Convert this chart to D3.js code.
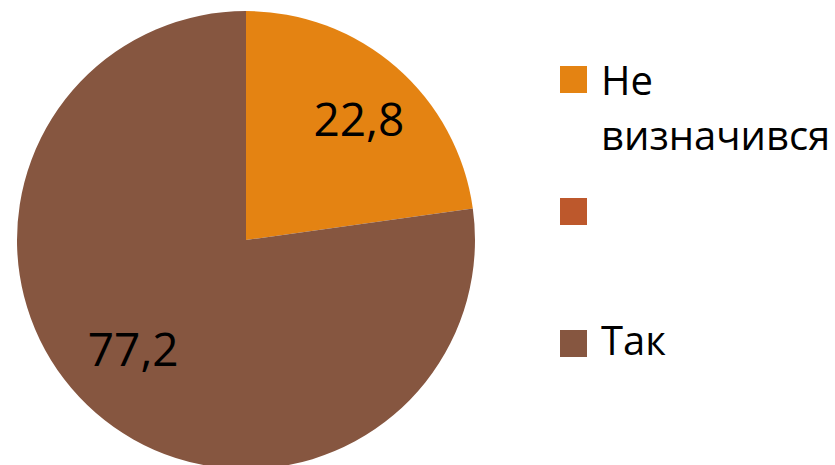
<!DOCTYPE html>
<html>
  <head>
    <meta charset="utf-8">
    <title>Pie</title>
    <style>
      body { margin: 0; background: white; }
      .lbl { font-family: "Open Sans", sans-serif; fill: #000; }
    </style>
    <script src="https://d3js.org/d3.v7.min.js"></script>
  </head>
  <body>
  <script type="text/javascript">
    var width = 835;
    var height = 465;

    // data
    var categories = ["Не визначився", "", "Так"];
    var values = [22.8, 0, 77.2];
    var valueLabels = ["22,8", "", "77,2"];
    var colors = ["#E48312", "#BD582C", "#865640"];
    var legendLines = [["Не", "визначився"], [""], ["Так"]];

    var svg = d3.select("body")
                .append("svg")
                .attr("width", width)
                .attr("height", height);

    var cx = 246, cy = 240, r = 229;

    var pie = d3.pie().sort(null).value(function(d){ return d; });
    var arc = d3.arc().innerRadius(0).outerRadius(r);

    var g = svg.append("g").attr("transform", "translate(" + cx + "," + cy + ")");

    var arcs = pie(values);

    g.selectAll("path")
      .data(arcs)
      .enter()
      .append("path")
        .attr("d", arc)
        .attr("fill", function(d, i){ return colors[i]; });

    //value labels, placed a bit past the mid angle like excel does
    var labelR = r * 0.703;
    g.selectAll("text")
      .data(arcs.filter(function(d){ return d.value > 0; }))
      .enter()
      .append("text")
        .attr("class", "lbl")
        .attr("transform", function(d){
          var a = (d.startAngle + d.endAngle) / 2 + 0.06;
          return "translate(" + (labelR * Math.sin(a)) + "," + (-labelR * Math.cos(a)) + ")";
        })
        .attr("text-anchor", "middle")
        .attr("dy", "0.24em")
        .style("font-size", "46px")
        .text(function(d){ return valueLabels[d.index]; });

    //legend
    var legendY = d3.scalePoint().domain(d3.range(categories.length)).range([79, 343]);
    var leg = svg.append("g");
    categories.forEach(function(c, i){
      var y = legendY(i);
      var n = legendLines[i].length;
      leg.append("rect")
        .attr("x", 560).attr("y", y - 13)
        .attr("width", 27).attr("height", 27)
        .attr("fill", colors[i]);
      legendLines[i].forEach(function(line, j){
        leg.append("text")
          .attr("class", "lbl")
          .attr("x", 601)
          .attr("y", y + 12 + (n - 1) * 4 + j * 55)
          .style("font-size", "40px")
          .text(line);
      });
    });
  </script>
  </body>
</html>
